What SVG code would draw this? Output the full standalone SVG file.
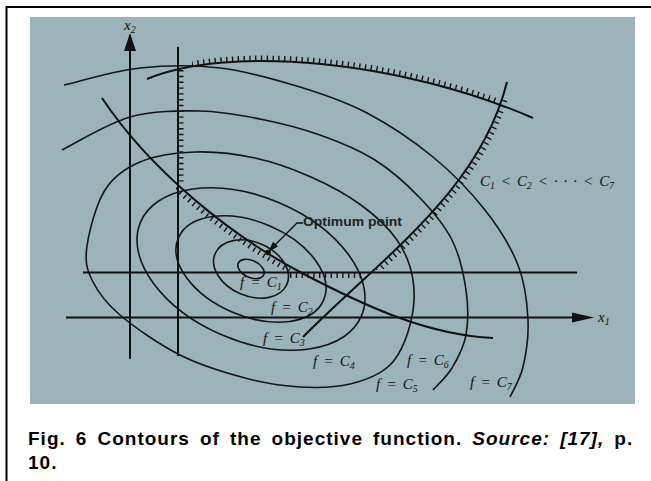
<svg xmlns="http://www.w3.org/2000/svg" width="651" height="481" viewBox="0 0 651 481">
<defs>
<style>
.ln{fill:none;stroke:#111;stroke-width:2;}
.ct{fill:none;stroke:#151515;stroke-width:1.6;}
.ht{fill:none;stroke:#151515;stroke-width:5;stroke-dasharray:1.4 4.4;}
.lb{font-family:"Liberation Serif",serif;font-style:italic;font-size:15px;fill:#111;word-spacing:2.5px;}
.sub{font-size:10px;}
.cap{font-family:"Liberation Sans",Arial,sans-serif;font-weight:bold;font-size:19px;fill:#000;letter-spacing:1px;word-spacing:3.8px;}
</style>
<clipPath id="cTop"><rect x="192" y="30" width="306" height="100"/></clipPath>
<clipPath id="cDiag"><rect x="176" y="185" width="124" height="86"/></clipPath>
<clipPath id="cV"><rect x="360" y="98" width="160" height="172"/></clipPath>
</defs>
<rect width="651" height="481" fill="#fff"/>
<path d="M651,7 H6.5 V481" fill="none" stroke="#000" stroke-width="2"/>
<rect x="30" y="17" width="605" height="387" fill="#9cb3b9"/>

<g id="contours">
<ellipse id="c1" class="ct" cx="251" cy="269" rx="14" ry="8.5" transform="rotate(25 251 269)"/>
<ellipse id="c2" class="ct" cx="251" cy="269" rx="39" ry="27" transform="rotate(23 251 269)"/>
<ellipse id="c3" class="ct" cx="251" cy="269" rx="79" ry="47" transform="rotate(23 251 269)"/>
<ellipse id="c4" class="ct" cx="251" cy="269" rx="120" ry="72" transform="rotate(23 251 269)"/>
<path id="c5" class="ct" d="M87,246 C89.17,231 96.17,204 105,190 C113.83,176 125,168.33 140,162 C155,155.67 175.83,152.67 195,152 C214.17,151.33 235.67,153.83 255,158 C274.33,162.17 293.33,169.17 311,177 C328.67,184.83 346.67,194.5 361,205 C375.33,215.5 388.33,227.5 397,240 C405.67,252.5 410.83,265.83 413,280 C415.17,294.17 413.83,310.83 410,325 C406.17,339.17 400,355.17 390,365 C380,374.83 365,380.33 350,384 C335,387.67 317.5,388 300,387 C282.5,386 265,383.33 245,378 C225,372.67 200.83,365.5 180,355 C159.17,344.5 134.67,327.5 120,315 C105.33,302.5 97.5,291.5 92,280 C86.5,268.5 84.83,261 87,246 Z"/>
<path id="c6" class="ct" d="M62,150 C73.3,144.5 107,123.5 130,117 C153,110.5 178.3,110.7 200,111 C221.7,111.3 240,115 260,119 C280,123 300.8,128.2 320,135 C339.2,141.8 358.3,149.5 375,160 C391.7,170.5 407.2,184.7 420,198 C432.8,211.3 444.3,224.7 452,240 C459.7,255.3 463.7,274.2 466,290 C468.3,305.8 468.3,322 466,335 C463.7,348 457.5,358.8 452,368 C446.5,377.2 436.2,386.3 433,390"/>
<path id="c7" class="ct" d="M64,85 C76.7,82.2 114,70.8 140,68 C166,65.2 193.3,64.8 220,68 C246.7,71.2 275.5,79.5 300,87 C324.5,94.5 344.8,101.3 367,113 C389.2,124.7 413.3,140.8 433,157 C452.7,173.2 470.8,192 485,210 C499.2,228 510.8,246.7 518,265 C525.2,283.3 527.2,303 528,320 C528.8,337 526,354.2 523,367 C520,379.8 512.2,392 510,397"/>
</g>

<g id="constraints">
<line class="ln" x1="178" y1="47" x2="178" y2="356"/>
<line class="ht" x1="181" y1="70" x2="181" y2="183"/>
<line class="ln" x1="83" y1="272.5" x2="577" y2="272.5"/>
<line class="ht" x1="290" y1="275.5" x2="365" y2="275.5"/>
<path class="ln" d="M147,79 C230,45 400,60 533,118"/>
<g clip-path="url(#cTop)"><path class="ht" d="M147,79 C230,45 400,60 533,118" transform="translate(0,-3)"/></g>
<path class="ln" d="M102,98 C150,170 230,235 300,272 S430,335 493,338"/>
<g clip-path="url(#cDiag)"><path class="ht" d="M102,98 C150,170 230,235 300,272" transform="translate(-2.4,3.2)"/></g>
<path class="ln" d="M303,337 C385,255 480,190 507,82"/>
<g clip-path="url(#cV)"><path class="ht" d="M303,337 C385,255 480,190 507,82" transform="translate(2.7,2.2)"/></g>
</g>

<g id="axes">
<line class="ln" x1="130" y1="359" x2="130" y2="48"/>
<polygon points="130,33 124,51 136,51" fill="#111"/>
<line class="ln" x1="66" y1="317.5" x2="575" y2="317.5"/>
<polygon points="594,317.5 572,312.5 572,322.5" fill="#111"/>
<text class="lb" x="124" y="30">x<tspan class="sub" dy="3">2</tspan></text>
<text class="lb" x="598" y="322">x<tspan class="sub" dy="3">1</tspan></text>
</g>

<g id="optimum">
<path d="M303,223 H297 L275,245" fill="none" stroke="#111" stroke-width="1.3"/>
<polygon points="268,252 278.1,246.5 273.1,241.7" fill="#111"/>
<circle cx="268" cy="252.5" r="2.8" fill="#111"/>
<text x="303" y="226" font-family="Liberation Sans, Arial, sans-serif" font-weight="bold" font-size="12" fill="#222" textLength="99" lengthAdjust="spacingAndGlyphs">Optimum point</text>
</g>

<g id="labels">
<text class="lb" x="240" y="287">f = C<tspan class="sub" dy="3">1</tspan></text>
<text class="lb" x="271" y="312">f = C<tspan class="sub" dy="3">2</tspan></text>
<text class="lb" x="263" y="343">f = C<tspan class="sub" dy="3">3</tspan></text>
<text class="lb" x="313" y="366">f = C<tspan class="sub" dy="3">4</tspan></text>
<text class="lb" x="376" y="389">f = C<tspan class="sub" dy="3">5</tspan></text>
<text class="lb" x="407" y="365">f = C<tspan class="sub" dy="3">6</tspan></text>
<text class="lb" x="470" y="387">f = C<tspan class="sub" dy="3">7</tspan></text>
<text class="lb" x="480" y="186" font-size="14" textLength="134" lengthAdjust="spacing">C<tspan class="sub" dy="3">1</tspan><tspan dy="-3"> &lt; C</tspan><tspan class="sub" dy="3">2</tspan><tspan dy="-3"> &lt; · · · &lt; C</tspan><tspan class="sub" dy="3">7</tspan></text>
</g>

<g id="caption">
<text class="cap" x="28" y="445">Fig. 6 Contours of the objective function. <tspan font-style="italic">Source: [17],</tspan> p.</text>
<text class="cap" x="28" y="469">10.</text>
</g>
</svg>
